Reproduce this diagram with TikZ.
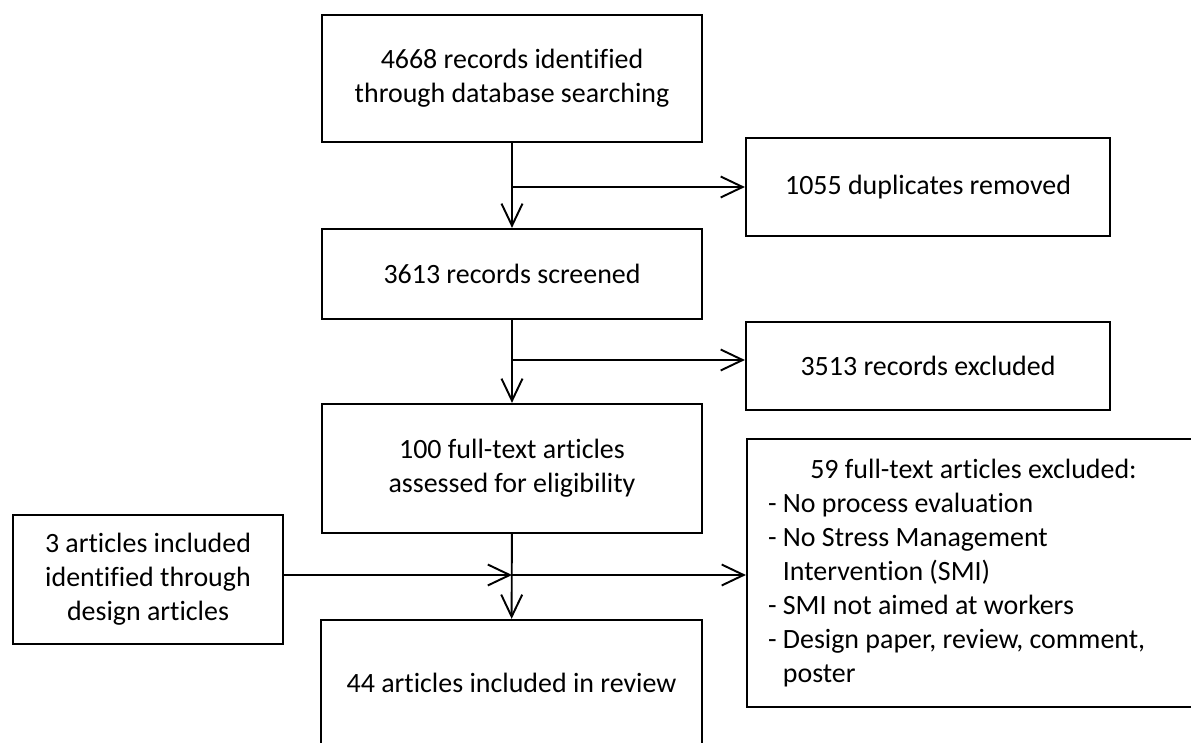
\documentclass[tikz,border=0pt]{standalone}
\usepackage{fontspec}
\setmainfont{Carlito}[Ligatures=NoCommon]
\usetikzlibrary{arrows.meta,positioning}
\tikzset{
  >={Straight Barb[length=4.4mm,width=4.2mm]},
  box/.style={draw=black,line width=1.3pt,fill=white,align=center,
    font=\fontsize{15.9pt}{19.3pt}\selectfont,inner sep=2pt},
  flow/.style={->,line width=1.1pt,draw=black},
}
\begin{document}
\begin{tikzpicture}[x=0.02cm,y=-0.02cm]
  \useasboundingbox (0,0) rectangle (1191,743);
  % main column
  \node[box,minimum width=7.6cm,minimum height=2.54cm] (ident) at (512,78.5)
    {4668 records identified\\through database searching};
  \node[box,minimum width=7.6cm,minimum height=1.8cm] (screen) at (512,274)
    {3613 records screened};
  \node[box,minimum width=7.6cm,minimum height=2.58cm] (elig) at (512,468.5)
    {100 full-text articles\\assessed for eligibility};
  \node[box,minimum width=7.62cm,minimum height=2.52cm] (review) at (511.5,683)
    {44 articles included in review};
  % side boxes
  \node[box,minimum width=7.28cm,minimum height=1.96cm] (dupl) at (928,187)
    {1055 duplicates removed};
  \node[box,minimum width=7.28cm,minimum height=1.76cm] (excl) at (928,366)
    {3513 records excluded};
  \node[box,minimum width=5.4cm,minimum height=2.58cm] (design) at (148,579.5)
    {3 articles included\\identified through\\design articles};
  \node[box,align=flush left,text width=8.22cm,inner xsep=0.42cm,minimum height=5.36cm] (ftext) at (973.5,573)
    {\rightskip=0pt plus 1fil\spaceskip=0pt\xspaceskip=0pt
     \hfill59 full-text articles excluded:\hfill\null\\
     - No process evaluation\\
     - No Stress Management\\
     \phantom{- }Intervention (SMI)\\
     - SMI not aimed at workers\\
     - Design paper, review, comment,\\
     \phantom{- }poster};
  % connectors
  \coordinate (j1) at (ident.south |- dupl.west);
  \coordinate (j2) at (512,360);
  \coordinate (j3) at (512,575);
  \draw[flow] (ident) -- (screen);
  \draw[flow] (j1) -- (dupl.west);
  \draw[flow] (screen) -- (elig);
  \draw[flow] (j2) -- (j2 -| excl.west);
  \draw[flow] (elig) -- (review);
  \draw[flow] (design.east |- j3) -- (j3);
  \draw[flow] (j3) -- (j3 -| ftext.west);
\end{tikzpicture}
\end{document}
